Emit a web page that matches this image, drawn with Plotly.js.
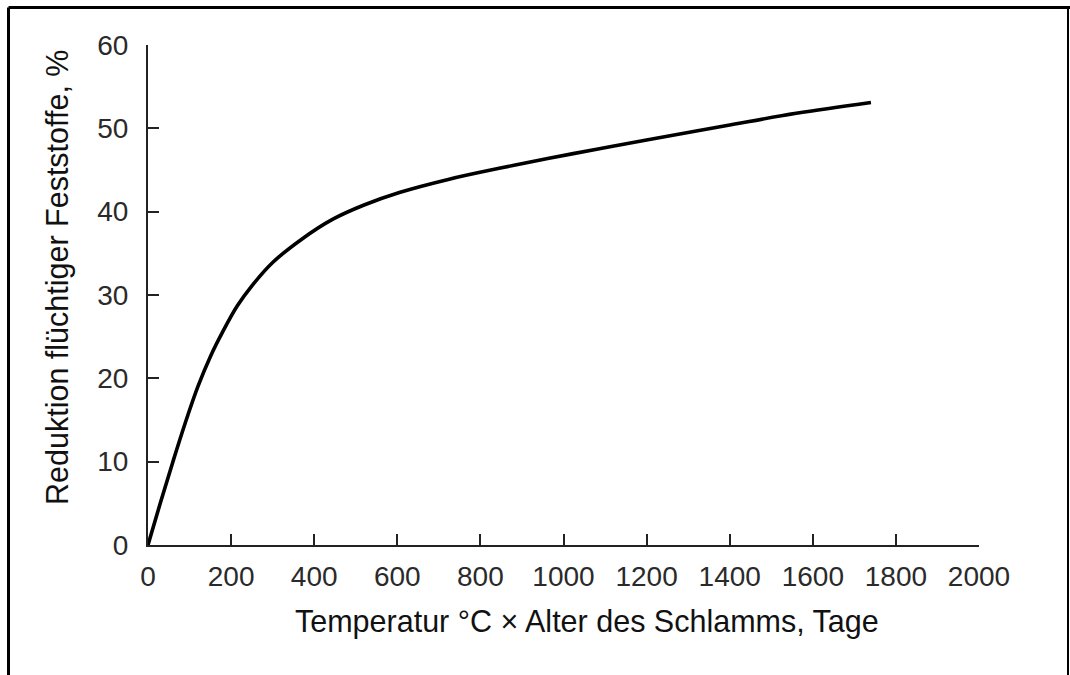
<!DOCTYPE html>
<html>
<head>
<meta charset="utf-8">
<script src="https://cdn.plot.ly/plotly-3.0.1.min.js"></script>
<style>
  html, body { margin: 0; padding: 0; background: #ffffff; }
  #chart { width: 1070px; height: 675px; }
</style>
</head>
<body>
<div id="chart"></div>
<script>
// Temperatur °C × Alter des Schlamms, Tage
const xValues = [0, 30, 60, 90, 120, 150, 180, 215, 250, 300, 370, 445, 520, 605, 725, 845, 965, 1080, 1200, 1390, 1560, 1740];
// Reduktion flüchtiger Feststoffe, %
const yValues = [0, 5.1, 10, 14.7, 19.0, 22.6, 25.6, 28.7, 31.1, 33.9, 36.7, 39.1, 40.8, 42.3, 43.9, 45.2, 46.4, 47.5, 48.6, 50.3, 51.8, 53.1];

const xTicks = [0, 200, 400, 600, 800, 1000, 1200, 1400, 1600, 1800, 2000];
const yTicks = [0, 10, 20, 30, 40, 50, 60];

const xTitle = 'Temperatur °C × Alter des Schlamms, Tage';
const yTitle = 'Reduktion flüchtiger Feststoffe, %';

const trace = {
  x: xValues,
  y: yValues,
  type: 'scatter',
  mode: 'lines',
  line: { color: '#000000', width: 3.6, shape: 'spline', smoothing: 1 },
  hoverinfo: 'x+y',
  showlegend: false
};

const tickFont = { family: 'Liberation Sans, Arial, sans-serif', size: 28, color: '#2a2a2a' };
const titleFont = { family: 'Liberation Sans, Arial, sans-serif', size: 30.5, color: '#111111' };

const L = 148, R = 91, T = 45, B = 130, W = 1070, H = 675;
const pw = W - L - R, ph = H - T - B;
function px(x) { return (x - L) / pw; }
function py(y) { return (H - B - y) / ph; }

const layout = {
  width: W,
  height: H,
  paper_bgcolor: '#ffffff',
  plot_bgcolor: '#ffffff',
  margin: { l: L, r: R, t: T, b: B },
  showlegend: false,
  xaxis: {
    range: [0, 2000],
    tickvals: xTicks,
    ticktext: xTicks.map(String),
    ticks: 'inside',
    ticklen: 11,
    tickwidth: 2,
    tickcolor: '#222222',
    showline: true,
    linecolor: '#222222',
    linewidth: 2,
    showgrid: false,
    zeroline: false,
    tickfont: tickFont,
    ticklabelstandoff: 5,
    automargin: false
  },
  yaxis: {
    range: [0, 60],
    tickvals: yTicks,
    ticktext: yTicks.map(String),
    ticks: 'inside',
    ticklen: 11,
    tickwidth: 2,
    tickcolor: '#222222',
    showline: true,
    linecolor: '#222222',
    linewidth: 2,
    showgrid: false,
    zeroline: false,
    tickfont: tickFont,
    ticklabelstandoff: 12,
    automargin: false
  },
  annotations: [
    { text: xTitle, xref: 'paper', yref: 'paper', x: px(587), y: py(621), xanchor: 'center', yanchor: 'middle',
      showarrow: false, font: titleFont },
    { text: yTitle, xref: 'paper', yref: 'paper', x: px(57), y: py(278), xanchor: 'center', yanchor: 'middle',
      textangle: -90, showarrow: false, font: titleFont }
  ],
  shapes: [
    { type: 'line', xref: 'paper', yref: 'paper', x0: px(8.5), x1: px(1070), y0: py(7.5), y1: py(7.5), line: { color: '#000000', width: 3 } },
    { type: 'line', xref: 'paper', yref: 'paper', x0: px(8.5), x1: px(8.5), y0: py(7.5), y1: py(675), line: { color: '#000000', width: 3 } },
    { type: 'line', xref: 'paper', yref: 'paper', x0: px(1068), x1: px(1068), y0: py(7.5), y1: py(675), line: { color: '#000000', width: 2 } }
  ]
};

Plotly.newPlot('chart', [trace], layout, { displayModeBar: false, staticPlot: true });
</script>
</body>
</html>
